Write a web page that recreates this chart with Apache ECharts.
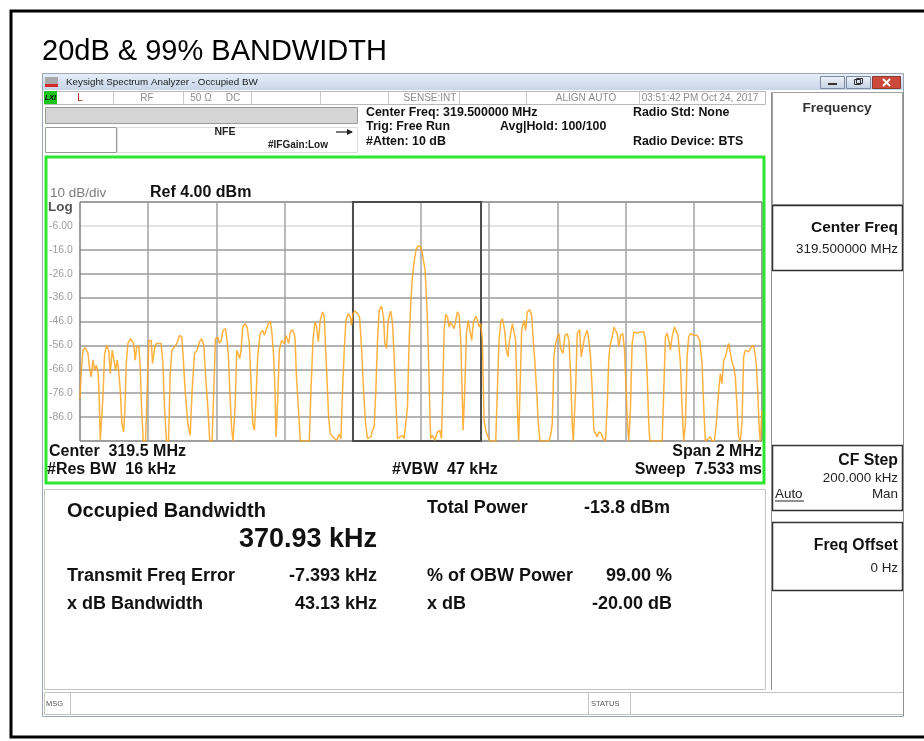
<!DOCTYPE html>
<html>
<head>
<meta charset="utf-8">
<title>20dB &amp; 99% BANDWIDTH</title>
<script src="https://cdn.jsdelivr.net/npm/echarts@6/dist/echarts.min.js"></script>
<style>
html, body { margin: 0; padding: 0; background: #fff; }
#chart { width: 924px; height: 741px; }
</style>
</head>
<body>
<div id="chart"></div>
<script>
// trace: frequency offset from the start (318.5 MHz), kHz
var traceKHz = [
  0, 3.9, 8.7, 15.6, 23.4, 28.3, 33.1, 38.0, 42.9, 47.8, 52.7, 55.6, 59.5, 64.4, 67.3, 72.2,
  79.0, 84.9, 88.8, 94.6, 99.5, 104.4, 109.3, 113.2, 118.1, 122.9, 127.8, 131.7, 135.6, 140.5,
  148.3, 157.1, 162.0, 165.9, 172.7, 176.6, 180.5, 185.4, 192.2, 197.1, 202.0, 208.8, 212.7,
  218.6, 223.5, 238.1, 243.0, 247.9, 253.7, 259.6, 264.5, 269.3, 277.1, 284.0, 291.8, 298.6,
  302.5, 308.4, 316.2, 323.0, 328.9, 335.7, 343.5, 350.3, 357.2, 363.0, 367.9, 374.7, 380.6,
  387.4, 392.3, 397.2, 404.0, 408.9, 413.8, 419.6, 426.5, 431.3, 435.3, 439.2, 445.0, 448.9,
  454.8, 459.7, 464.5, 468.4, 472.3, 477.2, 484.0, 489.9, 496.7, 501.6, 506.5, 511.4, 516.3,
  521.1, 528.0, 535.8, 540.7, 545.5, 552.4, 558.2, 563.1, 568.0, 571.9, 574.8, 579.7, 584.6,
  591.4, 599.2, 604.1, 611.9, 616.8, 623.6, 630.5, 634.4, 640.2, 646.1, 672.4, 677.3, 683.2,
  689.0, 693.9, 698.8, 704.6, 711.5, 716.3, 720.2, 724.1, 729.0, 733.9, 740.7, 745.6, 753.4,
  760.3, 765.1, 770.0, 774.9, 779.8, 786.6, 792.5, 796.4, 800.3, 806.1, 813.9, 819.8, 825.6,
  831.5, 837.4, 843.2, 853.0, 857.9, 862.7, 867.6, 872.5, 877.4, 884.2, 890.1, 894.0, 898.9,
  903.7, 911.5, 916.4, 921.3, 926.2, 931.1, 938.9, 945.7, 950.6, 955.5, 960.3, 965.2, 970.1,
  974.0, 977.9, 981.9, 985.8, 990.6, 997.5, 1002.4, 1007.2, 1012.1, 1016.0, 1019.9, 1023.8,
  1026.8, 1028.7, 1033.6, 1040.5, 1048.3, 1055.1, 1060.0, 1063.9, 1067.8, 1072.7, 1077.5,
  1082.4, 1087.3, 1092.2, 1097.1, 1101.9, 1106.8, 1111.7, 1116.6, 1120.5, 1123.4, 1128.3,
  1133.2, 1138.1, 1143.9, 1148.8, 1153.7, 1160.5, 1165.4, 1170.3, 1175.1, 1180.0, 1184.9,
  1189.8, 1196.6, 1202.5, 1219.1, 1224.0, 1228.8, 1233.7, 1238.6, 1245.4, 1250.3, 1255.2,
  1258.1, 1263.0, 1267.9, 1272.7, 1277.6, 1282.5, 1286.4, 1290.3, 1295.2, 1302.0, 1306.9,
  1311.8, 1318.6, 1324.5, 1329.3, 1334.2, 1339.1, 1344.0, 1348.9, 1375.2, 1380.1, 1385.0,
  1389.9, 1394.7, 1399.6, 1404.5, 1409.4, 1416.2, 1422.1, 1428.9, 1433.8, 1438.7, 1443.5,
  1446.5, 1453.3, 1458.2, 1465.0, 1469.9, 1474.8, 1479.7, 1487.5, 1492.3, 1497.2, 1502.1,
  1507.0, 1516.7, 1521.6, 1528.5, 1534.3, 1541.1, 1546.0, 1550.9, 1555.8, 1560.7, 1565.5,
  1570.4, 1575.3, 1580.2, 1585.1, 1591.9, 1596.8, 1601.7, 1606.5, 1609.5, 1614.3, 1619.2,
  1624.1, 1633.9, 1643.6, 1653.4, 1658.3, 1663.1, 1668.0, 1671.0, 1707.1, 1712.0, 1716.8,
  1721.7, 1726.6, 1731.5, 1736.3, 1743.2, 1749.0, 1753.9, 1760.7, 1765.6, 1770.5, 1775.4,
  1780.3, 1785.1, 1790.0, 1799.8, 1809.5, 1817.3, 1824.2, 1829.1, 1833.9, 1848.6, 1853.5,
  1860.3, 1866.1, 1873.0, 1877.9, 1882.7, 1887.6, 1892.5, 1897.4, 1902.3, 1907.1, 1912.0,
  1916.9, 1921.8, 1926.7, 1931.5, 1936.4, 1941.3, 1946.2, 1951.1, 1955.9, 1960.8, 1965.7,
  1973.5, 1977.4, 1983.3, 1987.2, 1992.1, 1995.0, 2000
];
// level in dBm at each of the points above
var traceDbm = [
  -78, -66.4, -58.0, -56.9, -59.4, -65.7, -69.2, -62.2, -66.4, -64.3, -67.1, -74.8, -95.7, -96, -77.6, -59.4,
  -55.9, -58.7, -67.8, -58.0, -58.7, -66.4, -62.2, -66.4, -74.8, -88.7, -92.2, -83.1, -63.6, -55.2,
  -53.2, -55.2, -62.2, -56.6, -56.6, -65.0, -81.7, -96, -96, -74.8, -53.9, -53.9, -63.6,
  -57.3, -55.2, -55.2, -63.6, -81.7, -96, -96, -67.8, -58.0, -56.6, -55.2, -51.8, -52.5,
  -60.8, -74.8, -88.7, -93.6, -74.8, -59.4, -58.0, -54.5, -53.2, -55.9, -67.8, -81.7, -96,
  -96, -74.8, -53.2, -52.5, -55.2, -53.9, -49.7, -49.0, -53.9, -60.8, -74.8, -91.5, -96,
  -81.7, -58.0, -57.3, -61.5, -58.0, -48.3, -46.9, -48.3, -55.2, -72.0, -88.7, -91.5, -77.6,
  -60.8, -51.1, -49.7, -51.8, -51.1, -46.9, -45.8, -51.1, -60.8, -74.8, -94.3, -79.0, -58.0,
  -53.9, -55.2, -51.8, -55.2, -50.4, -49.4, -52.5, -67.8, -81.7, -96, -96, -74.8, -53.9,
  -46.2, -48.3, -54.5, -45.5, -42.0, -44.1, -57.3, -69.2, -85.9, -92.9, -94.3, -93.6, -95.7,
  -93.2, -95.0, -74.8, -58.0, -45.5, -42.7, -44.1, -47.6, -42.7, -41.6, -42.7, -44.1, -56.6,
  -74.8, -88.7, -95.0, -94.3, -91.5, -90.1, -74.8, -53.9, -41.3, -39.6, -44.1, -55.2, -57.3,
  -45.5, -41.6, -46.9, -60.8, -79.0, -95.0, -94.3, -93.6, -95.0, -95.7, -81.7, -53.9, -38,
  -28.8, -23.2, -19.0, -15.9, -14.5, -14.5, -16.5, -20.4, -24.6, -35.8, -49.8, -70.8,
  -88.7, -95.0, -93.6, -95.7, -92.2, -91.5, -95.0, -74.8, -49.7, -43.0, -44.1,
  -48.3, -46.2, -47.6, -49.0, -45.5, -42.0, -43.4, -53.9, -74.8, -91.5, -74.8,
  -51.1, -45.5, -46.2, -53.9, -46.2, -43.8, -45.5, -48.3, -46.9, -53.9, -87.3,
  -91.5, -94.3, -96, -96, -74.8, -53.9, -46.2, -44.8, -49.7, -58.0, -60.8,
  -55.2, -51.1, -46.9, -47.6, -53.9, -81.7, -96, -74.8, -49.7, -45.5, -49.7,
  -42.0, -41.0, -43.4, -53.9, -63.6, -74.8, -88.7, -96, -96, -93.6, -88.7,
  -60.8, -55.2, -52.5, -51.1, -57.3, -59.4, -51.8, -51.1, -53.9, -67.8, -88.7,
  -96, -74.8, -51.1, -49.4, -60.8, -56.6, -52.5, -49.7, -53.9, -60.8, -74.8,
  -91.5, -94.3, -92.2, -92.9, -95.0, -96, -81.7, -60.8, -55.2, -52.5, -48.3,
  -48.3, -51.1, -56.6, -51.8, -51.1, -58.0, -74.8, -91.5, -96, -81.7, -55.2,
  -50.4, -50.8, -50.4, -50.4, -53.9, -67.8, -88.7, -96, -96, -74.8, -52.5,
  -50.8, -53.9, -58.0, -52.5, -48.3, -47.6, -51.8, -63.6, -81.7, -96, -88.7,
  -60.8, -52.5, -51.1, -51.8, -51.8, -53.9, -63.6, -81.7, -96, -94.3, -96,
  -96, -88.7, -74.8, -67.8, -72.0, -62.2, -60.8, -58.0, -55.2, -55.9, -62.9,
  -65.0, -69.2, -81.7, -94.3, -96, -88.7, -60.8, -58.0, -58.0, -58.7, -57.3,
  -55.9, -57.3, -63.6, -74.8, -91.5, -96, -83.1
];

// OBW marker edges (kHz from start)
var obwEdgesKHz = [800.5, 1176];

// axis scale: ref level 4 dBm, 10 dB/div, 10 div; span 2 MHz in 10 div
var yTickValues = [-96, -86, -76, -66, -56, -46, -36, -26, -16, -6, 4];
var yLabelValues = [-86, -76, -66, -56, -46, -36, -26, -16, -6];
var xMinKHz = 0, xMaxKHz = 2000, xStepKHz = 200;

var FONT = '"Liberation Sans", Arial, sans-serif';

var traceData = traceKHz.map(function (f, i) { return [f, traceDbm[i]]; });

function txt(x, y, s, size, weight, color, align) {
  return {
    type: 'text', x: x, y: y, z: 100,
    style: {
      text: s, font: (weight || 'normal') + ' ' + size + 'px ' + FONT,
      fill: color || '#000',
      textAlign: align || 'left', textVerticalAlign: 'middle',
      align: align || 'left', verticalAlign: 'middle'
    }
  };
}
function box(x, y, w, h, stroke, fill, lw) {
  return {
    type: 'rect', z: 90, shape: { x: x, y: y, width: w, height: h },
    style: { fill: fill || 'none', stroke: stroke || 'none', lineWidth: lw || 1 }
  };
}
function ln(x1, y1, x2, y2, stroke, lw) {
  return {
    type: 'line', z: 95, shape: { x1: x1, y1: y1, x2: x2, y2: y2 },
    style: { stroke: stroke, lineWidth: lw || 1 }
  };
}

var barGrad = { type: 'linear', x: 0, y: 0, x2: 0, y2: 1,
  colorStops: [{ offset: 0, color: '#e6eef8' }, { offset: 1, color: '#c6d5e8' }] };
var btnGrad = { type: 'linear', x: 0, y: 0, x2: 0, y2: 1,
  colorStops: [{ offset: 0, color: '#eef3f9' }, { offset: 1, color: '#c3d1e2' }] };

var gfx = [
  // outer black frame and page title
  box(11, 11, 940, 726, '#000', null, 3),
  txt(42, 52, '20dB & 99% BANDWIDTH', 29, 'normal', '#000'),

  // window + title bar
  box(42.5, 73.5, 861, 643, '#9aa6b4', null, 1),
  box(43, 74, 860, 16, null, barGrad),
  box(45, 77, 13, 10, null, '#a9a9a9'),
  box(45, 84, 13, 3, null, '#d42a2a'),
  txt(66, 82.5, 'Keysight Spectrum Analyzer - Occupied BW', 9.8, 'normal', '#1a1a1a'),
  box(820.5, 76.5, 24, 12, '#7b8ca3', btnGrad),
  ln(828, 84, 837, 84, '#333', 2),
  box(846.5, 76.5, 24, 12, '#7b8ca3', btnGrad),
  box(854.5, 79.5, 6, 5, '#333', null, 1),
  box(856.5, 78.5, 6, 5, '#333', null, 1),
  box(872.5, 76.5, 28, 12, '#8a3a30', '#cc4a3c'),
  ln(883, 79, 890, 86, '#fff', 2),
  ln(890, 79, 883, 86, '#fff', 2),

  // status row
  box(44.5, 91.5, 721, 13, '#b9b9b9', null),
  box(44, 91, 13, 13, null, '#1ac41a'),
  txt(50.5, 98, 'LXI', 7, 'bold italic', '#000', 'center'),
  ln(113.5, 92, 113.5, 104, '#c8c8c8'),
  ln(183.5, 92, 183.5, 104, '#c8c8c8'),
  ln(251.5, 92, 251.5, 104, '#c8c8c8'),
  ln(320.5, 92, 320.5, 104, '#c8c8c8'),
  ln(388.5, 92, 388.5, 104, '#c8c8c8'),
  ln(459.5, 92, 459.5, 104, '#c8c8c8'),
  ln(526.5, 92, 526.5, 104, '#c8c8c8'),
  ln(639.5, 92, 639.5, 104, '#c8c8c8'),
  txt(80, 98, 'L', 10, 'normal', '#9a1c1c', 'center'),
  txt(147, 98, 'RF', 10, 'normal', '#8c8c8c', 'center'),
  txt(201, 98, '50 Ω', 10, 'normal', '#8c8c8c', 'center'),
  txt(233, 98, 'DC', 10, 'normal', '#8c8c8c', 'center'),
  txt(430, 98, 'SENSE:INT', 10, 'normal', '#8c8c8c', 'center'),
  txt(586, 98, 'ALIGN AUTO', 10, 'normal', '#8c8c8c', 'center'),
  txt(700, 98, '03:51:42 PM Oct 24, 2017', 10, 'normal', '#8c8c8c', 'center'),

  // settings block
  box(45.5, 107.5, 312, 16, '#9a9a9a', '#d5d5d5'),
  box(45.5, 127.5, 71, 25, '#9a9a9a', null),
  box(117.5, 127.5, 240, 25, '#dedede', null),
  txt(225, 132, 'NFE', 10.5, 'bold', '#222', 'center'),
  ln(336, 132, 352, 132, '#222', 1.2),
  { type: 'polygon', z: 95, shape: { points: [[347, 129], [353, 132], [347, 135]] }, style: { fill: '#222' } },
  txt(298, 145, '#IFGain:Low', 10, 'bold', '#222', 'center'),
  txt(366, 113, 'Center Freq: 319.500000 MHz', 12.4, 'bold', '#111'),
  txt(366, 127, 'Trig: Free Run', 12.4, 'bold', '#111'),
  txt(366, 141.5, '#Atten: 10 dB', 12.4, 'bold', '#111'),
  txt(500, 127, 'Avg|Hold: 100/100', 12.4, 'bold', '#111'),
  txt(633, 113, 'Radio Std: None', 12.4, 'bold', '#111'),
  txt(633, 141.5, 'Radio Device: BTS', 12.4, 'bold', '#111'),

  // trace window
  box(46, 157, 718, 326, '#2fe62f', null, 3),
  txt(50, 193, '10 dB/div', 13.5, 'normal', '#7c7c7c'),
  txt(48, 207, 'Log', 13.5, 'bold', '#555'),
  txt(150, 192.5, 'Ref 4.00 dBm', 16, 'bold', '#111'),
  txt(49, 452, 'Center  319.5 MHz', 16, 'bold', '#111'),
  txt(762, 452, 'Span 2 MHz', 16, 'bold', '#111', 'right'),
  txt(47, 470, '#Res BW  16 kHz', 16, 'bold', '#111'),
  txt(392, 470, '#VBW  47 kHz', 16, 'bold', '#111'),
  txt(762, 470, 'Sweep  7.533 ms', 16, 'bold', '#111', 'right'),

  // results
  box(44.5, 489.5, 721, 200, '#c4c4c4', null),
  txt(67, 511, 'Occupied Bandwidth', 20, 'bold', '#111'),
  txt(377, 540, '370.93 kHz', 27, 'bold', '#111', 'right'),
  txt(427, 508, 'Total Power', 18, 'bold', '#111'),
  txt(670, 508, '-13.8 dBm', 18, 'bold', '#111', 'right'),
  txt(67, 576, 'Transmit Freq Error', 18, 'bold', '#111'),
  txt(377, 576, '-7.393 kHz', 18, 'bold', '#111', 'right'),
  txt(427, 576, '% of OBW Power', 18, 'bold', '#111'),
  txt(672, 576, '99.00 %', 18, 'bold', '#111', 'right'),
  txt(67, 604, 'x dB Bandwidth', 18, 'bold', '#111'),
  txt(377, 604, '43.13 kHz', 18, 'bold', '#111', 'right'),
  txt(427, 604, 'x dB', 18, 'bold', '#111'),
  txt(672, 604, '-20.00 dB', 18, 'bold', '#111', 'right'),

  // soft-key panel
  ln(771.5, 92, 771.5, 690, '#8f8f8f'),
  ln(903.5, 92, 903.5, 716, '#8f8f8f'),
  box(772.5, 92.5, 130, 112, '#a0a0a0', null),
  txt(837, 108, 'Frequency', 13.7, 'bold', '#333', 'center'),
  box(772.5, 205.5, 130, 65, '#333', null, 1.5),
  txt(898, 228, 'Center Freq', 15.5, 'bold', '#111', 'right'),
  txt(898, 249, '319.500000 MHz', 13.4, 'normal', '#222', 'right'),
  box(772.5, 445.5, 130, 65, '#333', null, 1.5),
  txt(898, 461, 'CF Step', 15.8, 'bold', '#111', 'right'),
  txt(898, 478, '200.000 kHz', 13.4, 'normal', '#222', 'right'),
  txt(775, 494, 'Auto', 13.4, 'normal', '#222'),
  ln(775, 501, 804, 501, '#222', 1),
  txt(898, 494, 'Man', 13.4, 'normal', '#222', 'right'),
  box(772.5, 522.5, 130, 68, '#333', null, 1.5),
  txt(898, 546, 'Freq Offset', 15.8, 'bold', '#111', 'right'),
  txt(898, 568, '0 Hz', 13.4, 'normal', '#222', 'right'),

  // message bar
  box(44.5, 692.5, 859, 22, '#c4c4c4', null),
  ln(70.5, 693, 70.5, 714, '#c4c4c4'),
  ln(588.5, 693, 588.5, 714, '#c4c4c4'),
  ln(630.5, 693, 630.5, 714, '#c4c4c4'),
  txt(46, 703.5, 'MSG', 7.5, 'normal', '#555'),
  txt(591, 703.5, 'STATUS', 7.5, 'normal', '#555')
];

var xGridColors = ['#7f7f7f', '#a3a3a3', '#a3a3a3', '#a3a3a3', '#a3a3a3', '#a3a3a3',
  '#a3a3a3', '#a3a3a3', '#a3a3a3', '#a3a3a3', '#7f7f7f'];
var yGridColors = ['#7f7f7f', '#9a9a9a', '#9a9a9a', '#9a9a9a', '#9a9a9a', '#9a9a9a',
  '#9a9a9a', '#9a9a9a', '#9a9a9a', '#dadada', '#7f7f7f'];

var chart = echarts.init(document.getElementById('chart'), null, { renderer: 'canvas' });

var option = {
  backgroundColor: '#fff',
  animation: false,
  grid: { left: 80, top: 202, width: 682, height: 239 },
  xAxis: {
    type: 'value', min: xMinKHz, max: xMaxKHz, interval: xStepKHz,
    axisLine: { show: false }, axisTick: { show: false }, axisLabel: { show: false },
    splitLine: { show: true, lineStyle: { color: xGridColors, width: 1.5 } }
  },
  yAxis: {
    type: 'value', min: -96, max: 4,
    axisLine: { show: false },
    axisTick: { show: false, customValues: yTickValues },
    axisLabel: {
      show: true, customValues: yLabelValues, align: 'left', margin: 31,
      color: '#9c9c9c', fontSize: 10.4, fontFamily: FONT,
      formatter: function (v) { return v === -6 ? '-6.00' : v.toFixed(1); }
    },
    splitLine: { show: true, lineStyle: { color: yGridColors, width: 1.5 } }
  },
  series: [{
    type: 'line',
    data: traceData,
    symbol: 'none',
    clip: true,
    lineStyle: { color: '#ffa41f', width: 1.5, opacity: 0.85 },
    markArea: {
      silent: true,
      itemStyle: { color: 'rgba(0,0,0,0)', borderColor: '#4d4d4d', borderWidth: 2 },
      data: [[{ xAxis: obwEdgesKHz[0], yAxis: 4 }, { xAxis: obwEdgesKHz[1], yAxis: -96 }]]
    }
  }],
  graphic: { elements: gfx }
};

chart.setOption(option);
</script>
</body>
</html>
